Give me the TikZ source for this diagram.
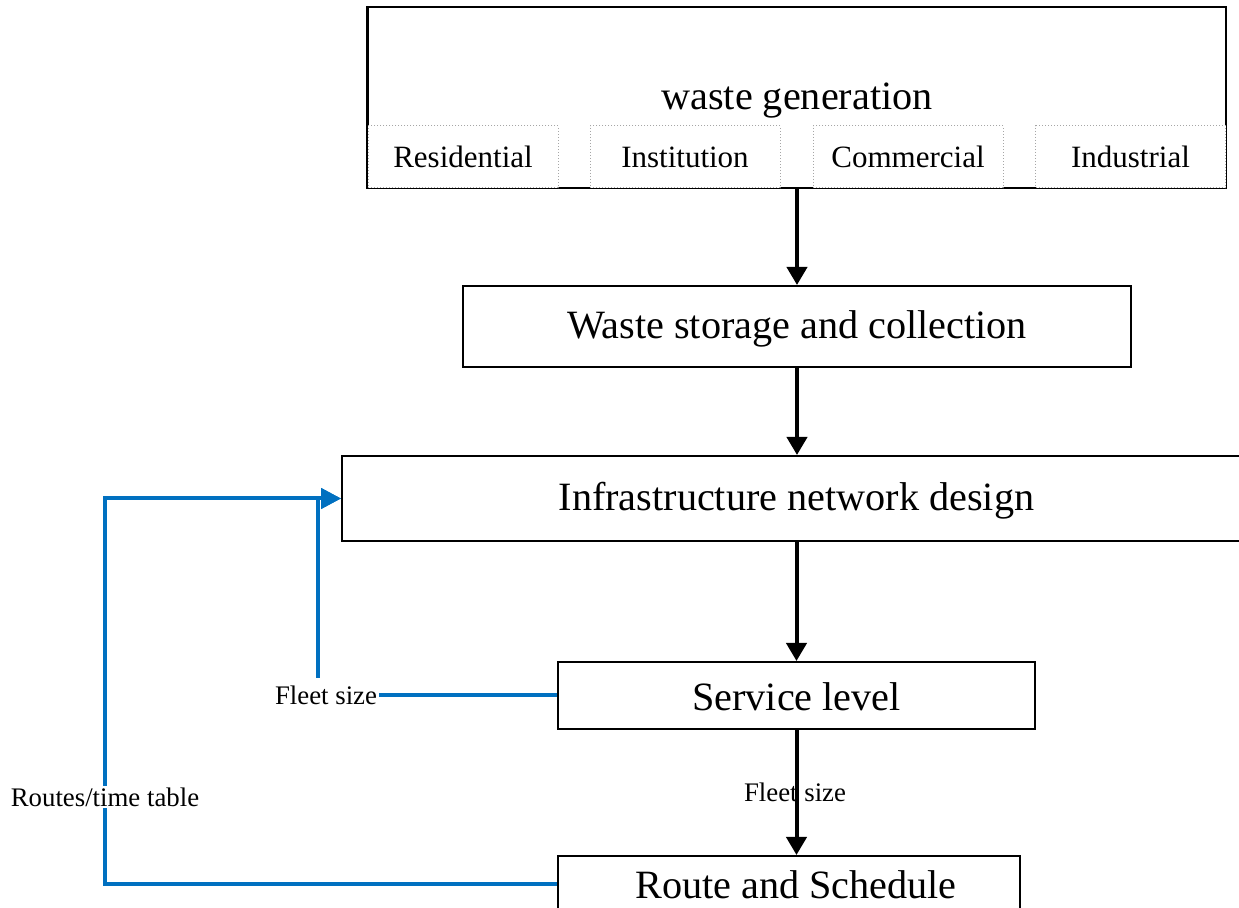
\documentclass[tikz,border=0pt]{standalone}
\usepackage{fontspec}
\setmainfont{Liberation Serif}
\usetikzlibrary{arrows.meta,calc}
\definecolor{flowblue}{HTML}{0070C0}
\begin{document}
\begin{tikzpicture}[x=0.5pt,y=-0.5pt,
  box/.style={draw=black,line width=1pt,fill=white,inner sep=0pt,anchor=center},
  subbox/.style={draw=gray!70,densely dotted,line width=0.5pt,fill=white,inner sep=0pt,
    minimum width=95pt,minimum height=31pt,font=\fontsize{15.5}{18}\selectfont},
  bigtext/.style={font=\fontsize{20.1}{24}\selectfont,inner sep=0pt},
  smalltext/.style={font=\fontsize{13.4}{16}\selectfont,inner sep=1pt},
  flow/.style={line width=2pt,-{Triangle[length=9pt,width=10pt]}},
  feedback/.style={draw=flowblue,line width=2pt},
  feedbackarrow/.style={feedback,-{Triangle[length=10pt,width=10pt]}}]
\useasboundingbox (0,0) rectangle (1239,908);
\clip (0,0) rectangle (1239,908);

% waste generation block with its four sources
\node[box,minimum width=429pt,minimum height=90.5pt] (gen) at (797,97.5) {};
\node[bigtext] (gentext) at (797,100.5) {waste generation};
\node[subbox] (res) at (463,157) {Residential};
\node[subbox] (ins) at (685,157) {Institution};
\node[subbox] (com) at (908,157) {Commercial};
\node[subbox] (ind) at (1130.5,157) {Industrial};
\draw[line width=1pt] (gen.north west) -- (gen.south west);

% main process chain
\node[box,minimum width=334pt,minimum height=40.5pt] (store) at (797,326.5) {};
\node[bigtext] (storetext) at (797,329) {Waste storage and collection};
\node[box,minimum width=454.5pt,minimum height=42.5pt] (infra) at (796.5,498.5) {};
\node[bigtext] (infratext) at (796.5,501) {Infrastructure network design};
\node[box,minimum width=238.5pt,minimum height=33.5pt] (svc) at (796.5,695.5) {};
\node[bigtext] (svctext) at (796.5,696.5) {Service level};
\node[box,minimum width=231pt,minimum height=28pt] (route) at (789,884) {};
\node[bigtext] (routetext) at (796,885) {Route and Schedule};

% label on the last black connector (drawn beneath it)
\node[smalltext] (fleetmid) at (795,792) {Fleet size};

% black connectors
\draw[flow] (gen.south) -- (store.north);
\draw[flow] (store.south) -- (store.south |- infra.north);
\draw[flow] (infra.south) -- (svc.north);
\draw[flow] (svc.south) -- (svc.south |- route.north);

% feedback loops
\node[smalltext] (fleet) at (326,695.5) {Fleet size};
\coordinate (fleetup) at (318,678);
\coordinate (routecorner) at (105,884);
\draw[feedback] (svc.west) -- (svc.west -| fleet.east);
\draw[feedbackarrow] (fleetup) |- (infra.west);
\draw[feedbackarrow] (route.west) -- (routecorner) |- (infra.west);
\node[smalltext,fill=white] (routes) at (105,797) {Routes/time table};
\end{tikzpicture}
\end{document}
